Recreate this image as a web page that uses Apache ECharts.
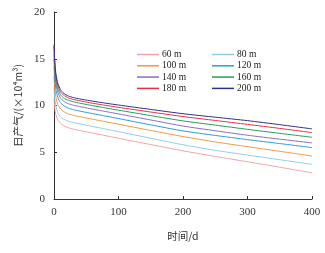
<!DOCTYPE html>
<html>
<head>
<meta charset="utf-8">
<script src="https://cdn.jsdelivr.net/npm/echarts@6/dist/echarts.min.js"></script>
<style>
  html, body { margin: 0; padding: 0; background: #fff; }
  #chart { width: 325px; height: 253px; }
</style>
</head>
<body>
<div id="chart"></div>
<script>
// 时间（天）
var days = [0, 1, 3, 6, 10, 15, 22, 30, 40, 55, 75, 100, 150, 200, 250, 300, 350, 400];

// 各井距的日产气量（×10^4 m^3）
var names = ['60 m', '80 m', '100 m', '120 m', '140 m', '160 m', '180 m', '200 m'];
var q60  = [10.8, 9.8, 9.0, 8.45, 8.1, 7.85, 7.62, 7.47, 7.32, 7.12, 6.85, 6.5, 5.82, 5.15, 4.55, 3.98, 3.4, 2.8];
var q80  = [12.0, 10.9, 9.9, 9.2, 8.8, 8.55, 8.33, 8.18, 8.03, 7.82, 7.55, 7.2, 6.5, 5.8, 5.2, 4.7, 4.2, 3.7];
var q100 = [13.2, 12.0, 10.9, 10.1, 9.65, 9.35, 9.1, 8.95, 8.8, 8.6, 8.33, 8.0, 7.33, 6.68, 6.1, 5.6, 5.1, 4.6];
var q120 = [14.2, 13.0, 11.7, 10.85, 10.3, 9.98, 9.72, 9.55, 9.4, 9.2, 8.93, 8.6, 7.93, 7.28, 6.8, 6.35, 5.93, 5.5];
var q140 = [15.0, 13.7, 12.3, 11.4, 10.8, 10.45, 10.2, 10.03, 9.88, 9.68, 9.42, 9.1, 8.45, 7.8, 7.3, 6.82, 6.4, 6.0];
var q160 = [15.5, 14.1, 12.7, 11.75, 11.15, 10.8, 10.56, 10.4, 10.25, 10.05, 9.8, 9.5, 8.92, 8.35, 7.9, 7.45, 7.02, 6.6];
var q180 = [16.3, 14.7, 13.1, 12.1, 11.45, 11.1, 10.82, 10.65, 10.5, 10.3, 10.07, 9.8, 9.3, 8.82, 8.4, 7.98, 7.55, 7.1];
var q200 = [16.5, 15.0, 13.35, 12.35, 11.7, 11.3, 11.02, 10.85, 10.7, 10.52, 10.3, 10.05, 9.58, 9.12, 8.75, 8.38, 7.95, 7.5];
var values = [q60, q80, q100, q120, q140, q160, q180, q200];

var colors = ['#f4a3a8', '#8ecfe8', '#f29a3e', '#2a9fd2', '#8b6dbd', '#20a05c', '#e2304c', '#2f3183'];

var serif = 'Liberation Serif, DejaVu Serif, serif';

var myChart = echarts.init(document.getElementById('chart'));

var series = names.map(function (n, i) {
    return {
        name: n,
        type: 'line',
        smooth: 0.2,
        showSymbol: false,
        lineStyle: { width: 1, color: colors[i] },
        itemStyle: { color: colors[i] },
        data: days.map(function (d, k) { return [d, values[i][k]]; })
    };
});

var legendCommon = {
    orient: 'vertical',
    top: 44,
    itemWidth: 22,
    itemHeight: 8,
    itemGap: 0.3,
    icon: 'path://M0,0L22,0L22,1.5L0,1.5Z',
    textStyle: { fontFamily: serif, fontSize: 9.5, lineHeight: 11, color: '#222', padding: [0, 0, 0, -2] }
};

var option = {
    animation: false,
    color: colors,
    grid: { left: 54, right: 13, top: 12, bottom: 54 },
    legend: [
        Object.assign({ left: 132, data: ['60 m', '100 m', '140 m', '180 m'] }, legendCommon),
        Object.assign({ left: 207, data: ['80 m', '120 m', '160 m', '200 m'] }, legendCommon)
    ],
    xAxis: {
        type: 'value',
        min: 0,
        max: 400,
        interval: 100,
        name: '时间/d',
        nameLocation: 'middle',
        nameGap: 32,
        nameTextStyle: { fontFamily: 'Noto Sans CJK SC', fontSize: 10.5, color: '#333' },
        axisLine: { lineStyle: { color: '#333', width: 1 } },
        axisTick: { inside: true, length: 3, lineStyle: { color: '#333' } },
        axisLabel: { fontFamily: serif, fontSize: 11, color: '#333', margin: 8 },
        splitLine: { show: false }
    },
    yAxis: {
        type: 'value',
        min: 0,
        max: 20,
        interval: 5,
        name: '日产气/(×10⁴m³)',
        nameLocation: 'middle',
        nameGap: 31,
        nameTextStyle: { fontFamily: 'Noto Sans CJK SC', fontSize: 10.5, color: '#333' },
        axisLine: { show: true, lineStyle: { color: '#333', width: 1 } },
        axisTick: { show: true, inside: true, length: 3, lineStyle: { color: '#333' } },
        axisLabel: { fontFamily: serif, fontSize: 11, color: '#333', margin: 9 },
        splitLine: { show: false }
    },
    series: series
};

myChart.setOption(option);
</script>
</body>
</html>
